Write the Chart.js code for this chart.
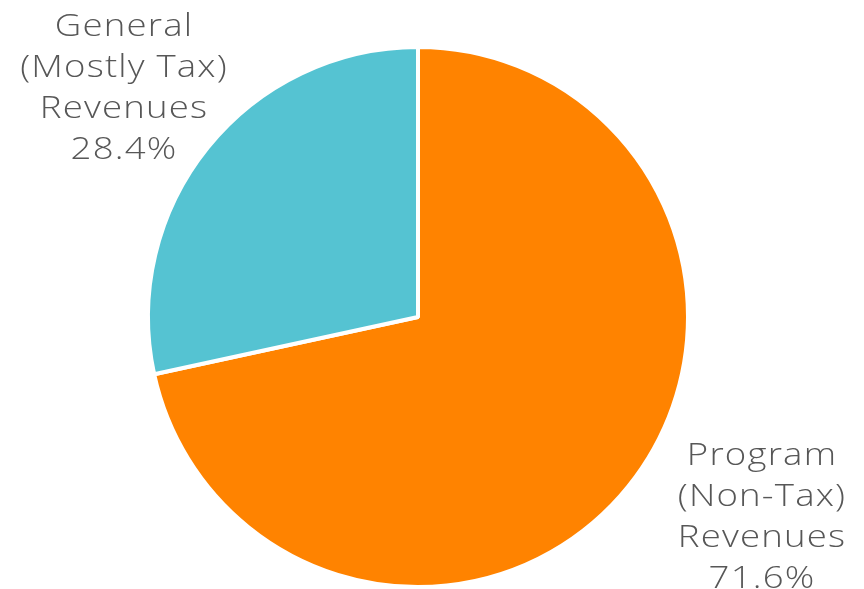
<!DOCTYPE html>
<html>
<head>
<meta charset="utf-8">
<script src="https://cdn.jsdelivr.net/npm/chart.js@4/dist/chart.umd.min.js"></script>
<style>
  html, body { margin: 0; padding: 0; background: #ffffff; }
  #wrap { width: 864px; height: 589px; position: relative; }
</style>
</head>
<body>
<div id="wrap"><canvas id="pie"></canvas></div>
<script>
// Revenue split (percent)
const categories = ['Program (Non-Tax) Revenues', 'General (Mostly Tax) Revenues'];
const shares = [71.6, 28.4];
const sliceColors = ['#FF8300', '#55C3D2'];
// Label lines drawn beside each slice
const labelLines = [
  ['Program', '(Non-Tax)', 'Revenues', '71.6%'],
  ['General', '(Mostly Tax)', 'Revenues', '28.4%']
];

// Places each slice's multi-line label at its anchor (slightly widened lettering)
const sliceLabels = {
  id: 'sliceLabels',
  afterDraw(chart) {
    const ctx = chart.ctx;
    const anchors = [
      { x: 762, y: 465 },
      { x: 124, y: 36 }
    ];
    const widen = 1.18;
    ctx.save();
    ctx.fillStyle = '#575757';
    ctx.font = '300 31px "Open Sans", Lato, sans-serif';
    ctx.letterSpacing = '1px';
    ctx.textAlign = 'center';
    ctx.textBaseline = 'alphabetic';
    labelLines.forEach((lines, i) => {
      lines.forEach((t, j) => {
        ctx.save();
        ctx.translate(anchors[i].x, anchors[i].y + j * 41);
        ctx.scale(widen, 1);
        ctx.fillText(t, 0, 0);
        ctx.restore();
      });
    });
    ctx.restore();
  }
};

new Chart(document.getElementById('pie'), {
  type: 'pie',
  data: {
    labels: categories,
    datasets: [{
      data: shares,
      backgroundColor: sliceColors,
      borderColor: '#ffffff',
      borderWidth: 4,
      radius: 270
    }]
  },
  options: {
    responsive: true,
    maintainAspectRatio: false,
    animation: false,
    layout: { padding: { left: 150, right: 178, top: 49, bottom: 4 } },
    plugins: {
      legend: { display: false },
      tooltip: { enabled: false }
    }
  },
  plugins: [sliceLabels]
});
</script>
</body>
</html>
